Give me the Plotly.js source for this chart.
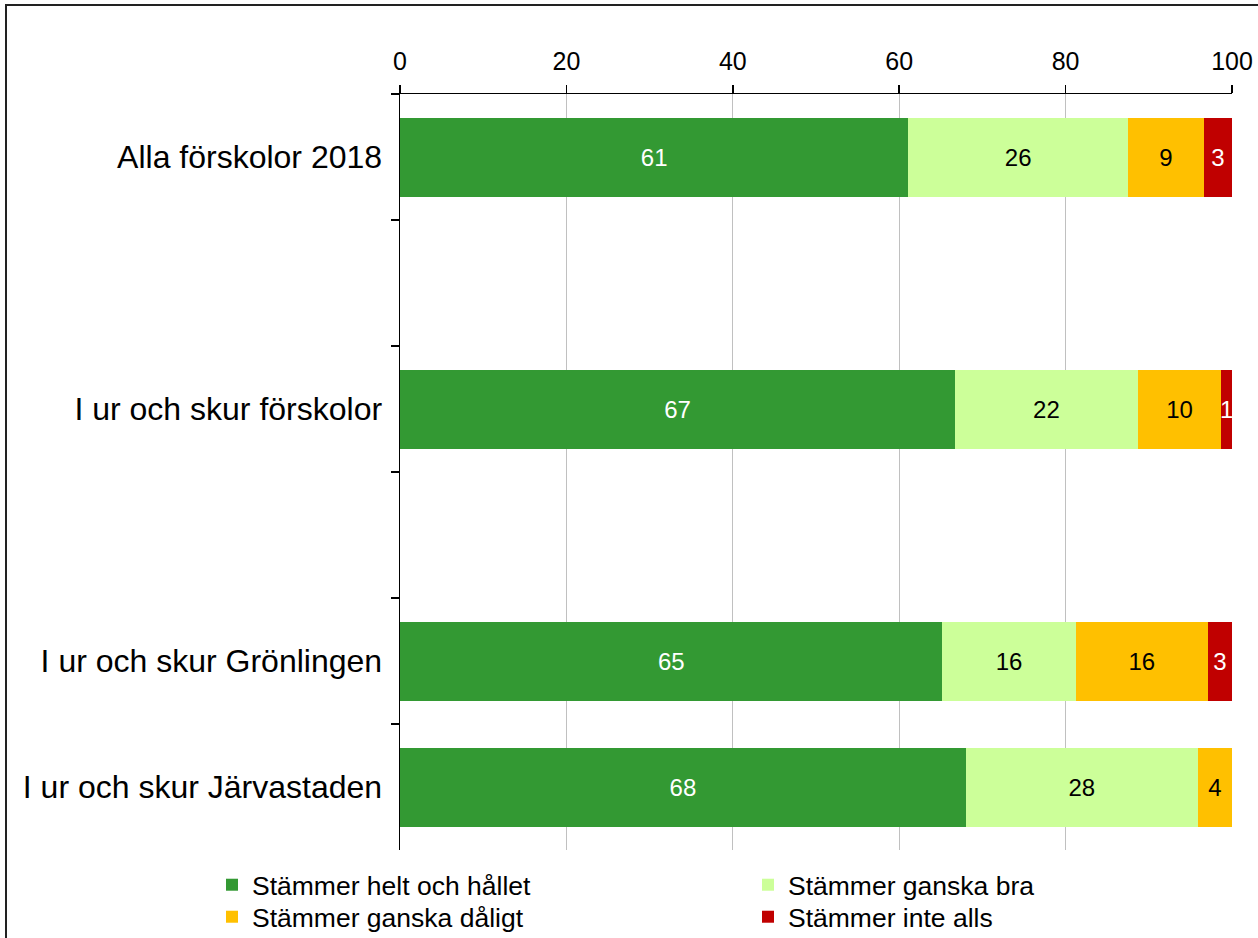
<!DOCTYPE html>
<html>
<head>
<meta charset="utf-8">
<script src="https://cdn.plot.ly/plotly-3.0.1.min.js"></script>
<style>html,body{margin:0;padding:0;background:#fff;} #chart{width:1258px;height:938px;}</style>
</head>
<body>
<div id="chart"></div>
<script>
const categories = ["Alla förskolor 2018", " ", "I ur och skur förskolor", "  ", "I ur och skur Grönlingen", "I ur och skur Järvastaden"];
const groups = ["Alla förskolor 2018", "I ur och skur förskolor", "I ur och skur Grönlingen", "I ur och skur Järvastaden"];
const seriesNames = ["Stämmer helt och hållet", "Stämmer ganska bra", "Stämmer ganska dåligt", "Stämmer inte alls"];
const helt = [61.1, 66.7, 65.2, 68.0];
const ganskaBra = [26.4, 22.0, 16.0, 27.9];
const ganskaDaligt = [9.1, 10.0, 15.9, 4.1];
const inteAlls = [3.4, 1.3, 2.9, null];
const xTicks = [0, 20, 40, 60, 80, 100];

const colors = ["#339933", "#CCFF99", "#FFC000", "#C00000"];
const textColors = ["#ffffff", "#000000", "#000000", "#ffffff"];
const series = [helt, ganskaBra, ganskaDaligt, inteAlls];
const legendIds = ["legend", "legend", "legend2", "legend2"];
const FONT = "Liberation Sans, Arial, sans-serif";

const traces = series.map((vals, i) => ({
  type: "bar",
  orientation: "h",
  name: seriesNames[i],
  legend: legendIds[i],
  y: groups,
  x: vals,
  marker: {color: colors[i], line: {width: 0}},
  texttemplate: "%{x:.0f}",
  textposition: "inside",
  insidetextanchor: "middle",
  textangle: 0,
  constraintext: "none",
  textfont: {family: FONT, size: 24, color: textColors[i]},
  hoverinfo: "none",
  cliponaxis: false
}));

const L = 400, R = 26, T = 94, B = 88;
const pw = 1258 - L - R, ph = 938 - T - B;

function legendAt(topPx) {
  return {
    orientation: "h",
    x: (212 - L) / pw, xanchor: "left",
    y: -(topPx - (T + ph)) / ph, yanchor: "top",
    entrywidth: 491, entrywidthmode: "pixels",
    font: {family: FONT, size: 26.5, color: "#000"},
    traceorder: "normal",
    bgcolor: "rgba(0,0,0,0)",
    itemclick: false, itemdoubleclick: false
  };
}

const layout = {
  width: 1258, height: 938,
  margin: {l: L, r: R, t: T, b: B, pad: 0, autoexpand: false},
  paper_bgcolor: "#ffffff", plot_bgcolor: "#ffffff",
  barmode: "stack",
  bargap: 0.373,
  font: {family: FONT, color: "#000"},
  xaxis: {
    side: "top",
    range: [0, 100.001],
    tickvals: xTicks,
    ticktext: xTicks.map(String),
    ticks: "outside", ticklen: 8, tickwidth: 1.5, tickcolor: "#000",
    showline: true, linecolor: "#000", linewidth: 1.5,
    showgrid: true, gridcolor: "#c0c0c0", gridwidth: 1.2,
    zeroline: false,
    tickfont: {family: FONT, size: 25, color: "#000"},
    ticklabelstandoff: 5,
    automargin: false,
    fixedrange: true
  },
  yaxis: {
    type: "category",
    categoryorder: "array",
    categoryarray: categories,
    autorange: "reversed",
    tickson: "boundaries",
    ticks: "outside", ticklen: 8, tickwidth: 1.5, tickcolor: "#000",
    showline: true, linecolor: "#000", linewidth: 1.5,
    showgrid: false, zeroline: false,
    tickfont: {family: FONT, size: 32, color: "#000"},
    ticklabelstandoff: 10,
    automargin: false,
    fixedrange: true
  },
  showlegend: true,
  legend: legendAt(861),
  legend2: legendAt(893),
  shapes: [{
    type: "rect", xref: "paper", yref: "paper",
    x0: (6 - L) / pw, x1: (1270 - L) / pw,
    y0: -(950 - (T + ph)) / ph, y1: 1 + (T - 5) / ph,
    line: {color: "#222", width: 2}, fillcolor: "rgba(0,0,0,0)", layer: "below"
  }]
};

Plotly.newPlot("chart", traces, layout, {displayModeBar: false, staticPlot: true});
</script>
</body>
</html>
